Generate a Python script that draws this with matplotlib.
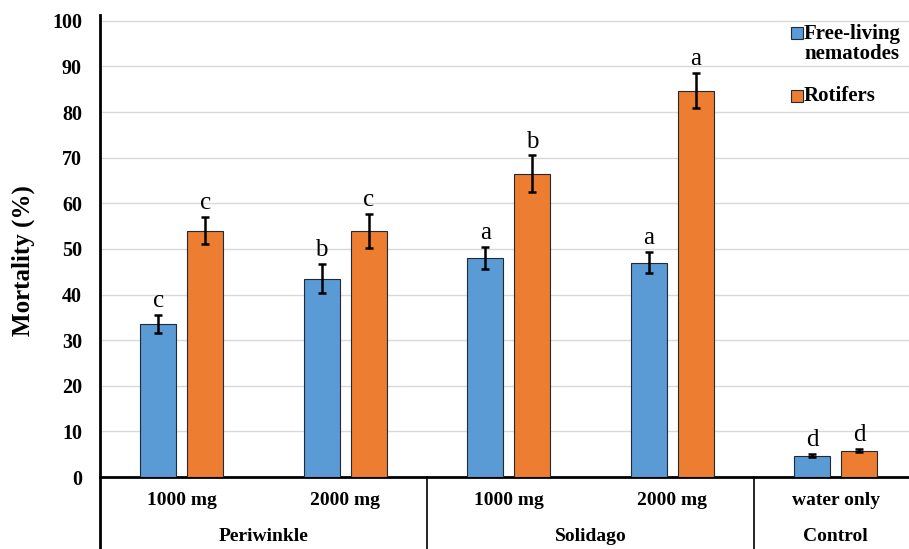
import numpy as np
import matplotlib
matplotlib.use("Agg")
import matplotlib.pyplot as plt

# ── data ─────────────────────────────────────────────────────────────
doses = ["1000 mg", "2000 mg", "1000 mg", "2000 mg", "water only"]
groups = ["Periwinkle", "Solidago", "Control"]
group_span = [(0, 1), (2, 3), (4, 4)]

nematodes = [33.5, 43.5, 48.0, 47.0, 4.7]
nematodes_err = [2.0, 3.2, 2.5, 2.3, 0.4]
nematodes_letters = ["c", "b", "a", "a", "d"]

rotifers = [54.0, 54.0, 66.5, 84.7, 5.8]
rotifers_err = [3.0, 3.7, 4.0, 3.8, 0.4]
rotifers_letters = ["c", "c", "b", "a", "d"]

# ── style ────────────────────────────────────────────────────────────
BLUE = "#5B9BD5"
ORANGE = "#ED7D31"
EDGE = "#1f2a36"
SERIF = ["Liberation Serif", "DejaVu Serif"]

plt.rcParams.update({"font.family": SERIF})

fig = plt.figure(figsize=(9.09, 5.49), dpi=100, facecolor="white")
ax = fig.add_axes([0.110, 0.131, 0.890, 0.842])

x = np.arange(len(doses))
w = 0.22
off = 0.144

ax.bar(x - off, nematodes, w, color=BLUE, edgecolor=EDGE, lw=0.8, zorder=3)
ax.bar(x + off, rotifers, w, color=ORANGE, edgecolor=EDGE, lw=0.8, zorder=3)
ax.errorbar(x - off, nematodes, yerr=nematodes_err, fmt="none", ecolor="black",
            elinewidth=1.8, capsize=3.2, capthick=1.8, zorder=4)
ax.errorbar(x + off, rotifers, yerr=rotifers_err, fmt="none", ecolor="black",
            elinewidth=1.8, capsize=3.2, capthick=1.8, zorder=4)

for i in range(len(doses)):
    ax.text(x[i] - off, nematodes[i] + nematodes_err[i] + 0.6, nematodes_letters[i],
            ha="center", va="bottom", fontsize=18)
    ax.text(x[i] + off, rotifers[i] + rotifers_err[i] + 0.6, rotifers_letters[i],
            ha="center", va="bottom", fontsize=18)

ax.set_xlim(-0.5, 4.448)
ax.set_ylim(0, 101.3)
ax.set_yticks(np.arange(0, 101, 10))
ax.tick_params(axis="y", length=0, pad=13, labelsize=14.5)
for lab in ax.get_yticklabels():
    lab.set_fontweight("bold")
ax.set_xticks([])
ax.yaxis.grid(True, color="#D9D9D9", lw=1.0, zorder=0)
ax.set_axisbelow(True)

for s in ["top", "right"]:
    ax.spines[s].set_visible(False)
ax.spines["bottom"].set_linewidth(2.0)
ax.spines["left"].set_linewidth(2.0)

# y axis title, a little below the axes centre as in the original
fig.text(0.026, 0.525, "Mortality (%)", rotation=90, ha="center", va="center",
         fontsize=18, fontweight="bold")

# category axis below the plot
tr = ax.get_xaxis_transform()
for xv in [-0.5, 1.5, 3.5]:
    ax.plot([xv, xv], [0, -0.2], transform=tr, color="black",
            lw=2.0 if xv == -0.5 else 1.2, clip_on=False)
for i, d in enumerate(doses):
    ax.text(x[i], -0.05, d, transform=tr, ha="center", va="center",
            fontsize=14, fontweight="bold")
for g, (a, b) in zip(groups, group_span):
    ax.text((a + b) / 2, -0.128, g, transform=tr, ha="center", va="center",
            fontsize=14, fontweight="bold")

# legend
ax.plot([0.877], [0.940], marker="s", ms=8, mfc=BLUE, mec=EDGE, mew=0.8,
        transform=fig.transFigure, clip_on=False)
fig.text(0.937, 0.919, "Free-living\nnematodes", ha="center", va="center",
         fontsize=15, fontweight="bold", linespacing=1.0)
ax.plot([0.877], [0.825], marker="s", ms=8, mfc=ORANGE, mec=EDGE, mew=0.8,
        transform=fig.transFigure, clip_on=False)
fig.text(0.884, 0.825, "Rotifers", ha="left", va="center",
         fontsize=15, fontweight="bold")

fig.savefig("out.png", dpi=100, facecolor="white")
